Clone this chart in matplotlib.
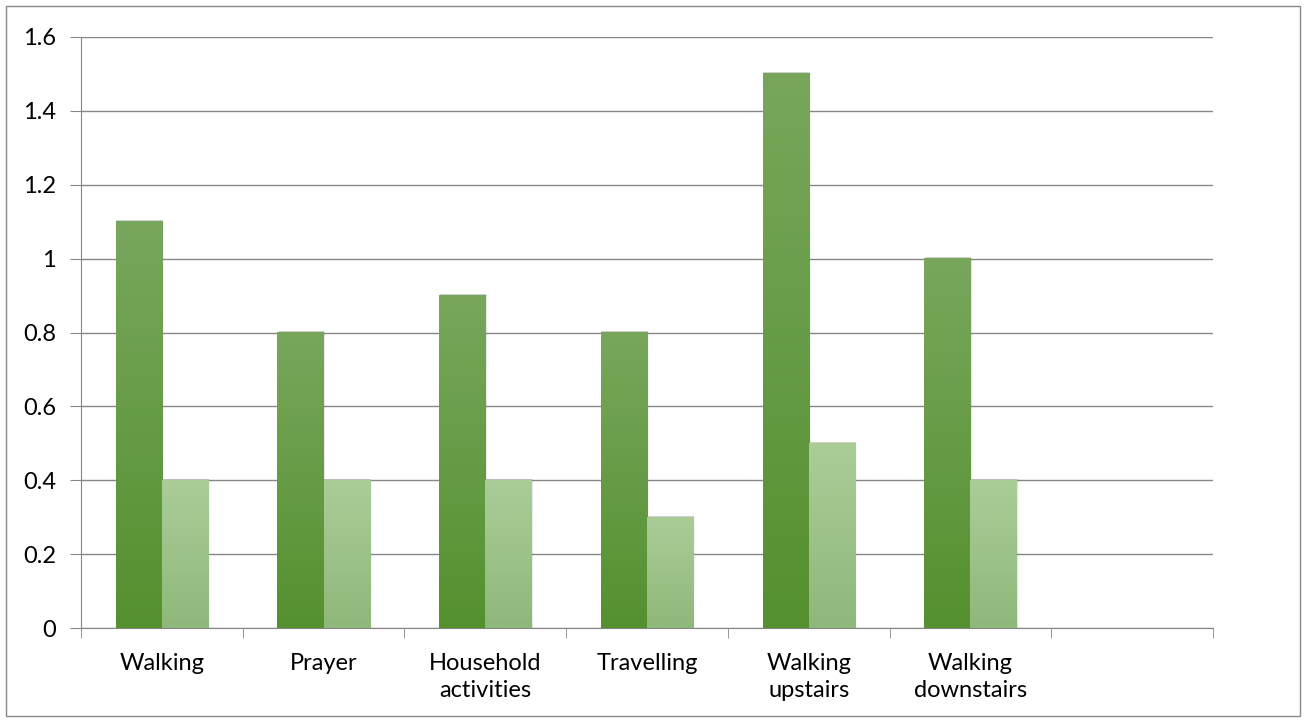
import numpy as np
import matplotlib.pyplot as plt
from matplotlib.colors import LinearSegmentedColormap
from matplotlib.patches import Rectangle

# Data
categories = ['Walking', 'Prayer', 'Household\nactivities', 'Travelling',
              'Walking\nupstairs', 'Walking\ndownstairs', '']
series_a = [1.1, 0.8, 0.9, 0.8, 1.5, 1.0, np.nan]
series_b = [0.4, 0.4, 0.4, 0.3, 0.5, 0.4, np.nan]
yticks = [0, 0.2, 0.4, 0.6, 0.8, 1, 1.2, 1.4, 1.6]
ytick_labels = ['0', '0.2', '0.4', '0.6', '0.8', '1', '1.2', '1.4', '1.6']

plt.rcParams['font.family'] = ['Lato', 'DejaVu Sans']

fig = plt.figure(figsize=(13.06, 7.22), dpi=100)
ax = fig.add_axes([0.062, 0.130, 0.8668, 0.8188])

# gradient fills (top -> bottom)
cmap_a = LinearSegmentedColormap.from_list('a', ['#55902f', '#78a75c'])
cmap_b = LinearSegmentedColormap.from_list('b', ['#8eb879', '#aacd98'])
grad = np.linspace(0, 1, 256).reshape(-1, 1)

width = 1 / 3.5
x = np.arange(len(categories))

def gradient_bar(x0, h, cmap):
    if np.isnan(h):
        return
    # soft shadow on the right side
    for k, a in enumerate([0.10, 0.06, 0.03]):
        ax.add_patch(Rectangle((x0 + 0.004 * (k + 1), 0), width, h + 0.004,
                               facecolor='black', alpha=a, edgecolor='none', zorder=2))
    ax.imshow(grad, extent=[x0, x0 + width, 0, h], origin='lower',
              cmap=cmap, aspect='auto', zorder=3)

for i in range(len(categories)):
    gradient_bar(x[i] - width, series_a[i], cmap_a)
    gradient_bar(x[i], series_b[i], cmap_b)

ax.set_xlim(-0.5, len(categories) - 0.5)
ax.set_ylim(0, 1.6)
ax.set_yticks(yticks)
ax.set_yticklabels(ytick_labels, fontsize=17)
ax.set_xticks(x)
ax.set_xticklabels(categories, fontsize=17, linespacing=1.35)
ax.set_xticks(np.arange(len(categories) + 1) - 0.5, minor=True)
ax.tick_params(axis='x', which='major', length=0, pad=18)
ax.tick_params(axis='x', which='minor', length=7, color='#868686', direction='out')
ax.tick_params(axis='y', length=8, color='#868686', pad=10)
ax.grid(axis='y', color='#868686', linewidth=1)
ax.set_axisbelow(True)
for s in ['top', 'right']:
    ax.spines[s].set_visible(False)
for s in ['left', 'bottom']:
    ax.spines[s].set_color('#868686')

# outer chart border
fig.add_artist(Rectangle((0.0046, 0.008), 0.991, 0.983, transform=fig.transFigure,
                         fill=False, edgecolor='#888888', linewidth=1))

fig.savefig('out.png', dpi=100)
